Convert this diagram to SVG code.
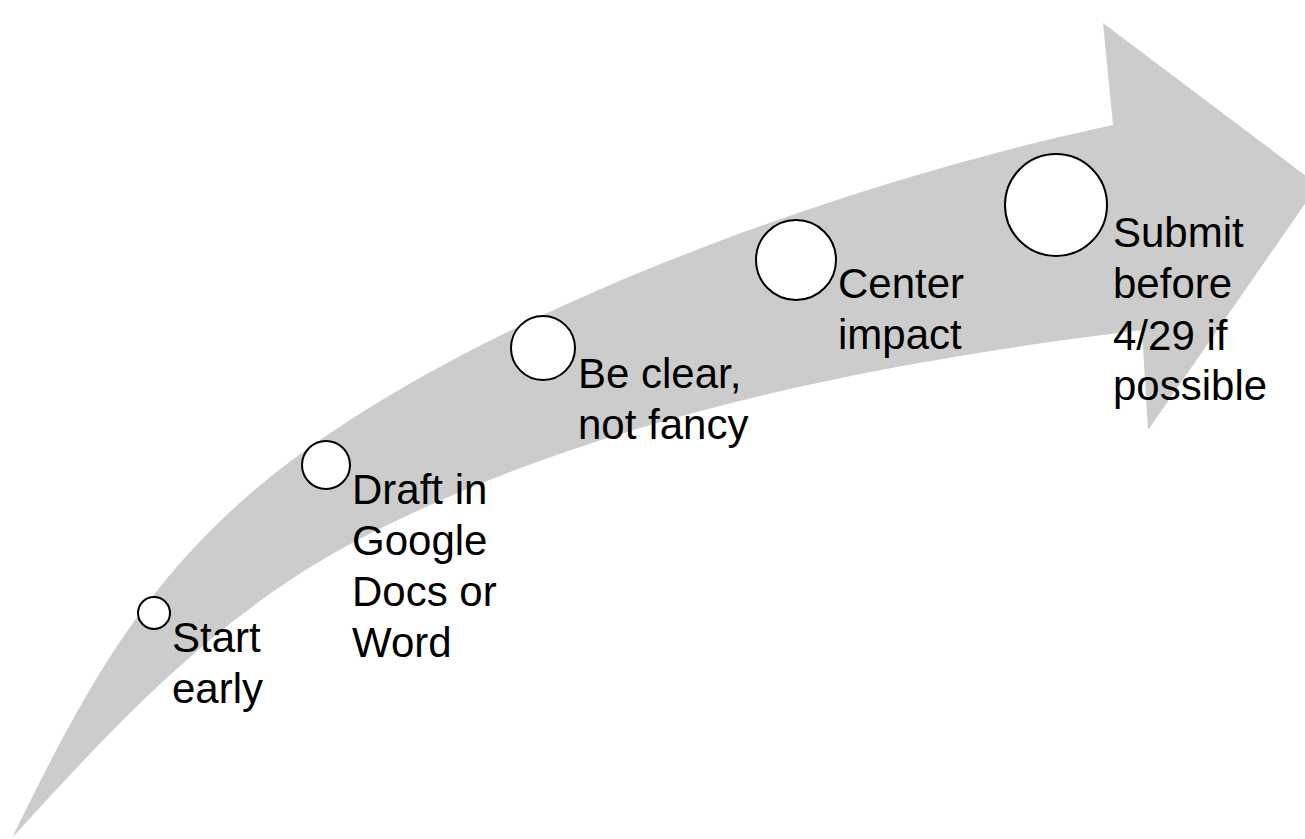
<svg xmlns="http://www.w3.org/2000/svg" width="1305" height="839" viewBox="0 0 1305 839">
<style>
.band{fill:#cccccc;stroke:none}
.dot{fill:#ffffff;stroke:#000000;stroke-width:2}
.lbl{font-family:"Liberation Sans",Arial,sans-serif;font-size:42px;fill:#000000}
</style>
<rect width="1305" height="839" fill="#ffffff"/>
<g id="connectors">
<path class="band" d="M12,838 C104,649 174,533 350,420 C560,285 869,177 1113,125 L1103,23 L1318,185 L1148,430 L1142,330 C894,360 626,411 400,519 C237,594 133,705 12,838 Z"/>
</g>
<g id="node-start">
<circle class="dot" cx="154" cy="613" r="16"/>
<text class="lbl" x="172" y="652">Start</text>
<text class="lbl" x="172" y="703">early</text>
</g>
<g id="node-draft">
<circle class="dot" cx="326" cy="465" r="24"/>
<text class="lbl" x="352" y="504">Draft in</text>
<text class="lbl" x="352" y="555">Google</text>
<text class="lbl" x="352" y="606">Docs or</text>
<text class="lbl" x="352" y="657">Word</text>
</g>
<g id="node-clear">
<circle class="dot" cx="543" cy="348" r="32"/>
<text class="lbl" x="578" y="388">Be clear,</text>
<text class="lbl" x="578" y="439">not fancy</text>
</g>
<g id="node-impact">
<circle class="dot" cx="796" cy="260" r="40"/>
<text class="lbl" x="838" y="298">Center</text>
<text class="lbl" x="838" y="349">impact</text>
</g>
<g id="node-submit">
<circle class="dot" cx="1056" cy="205" r="51"/>
<text class="lbl" x="1113" y="247">Submit</text>
<text class="lbl" x="1113" y="298">before</text>
<text class="lbl" x="1113" y="350">4/29 if</text>
<text class="lbl" x="1113" y="400">possible</text>
</g>
</svg>
